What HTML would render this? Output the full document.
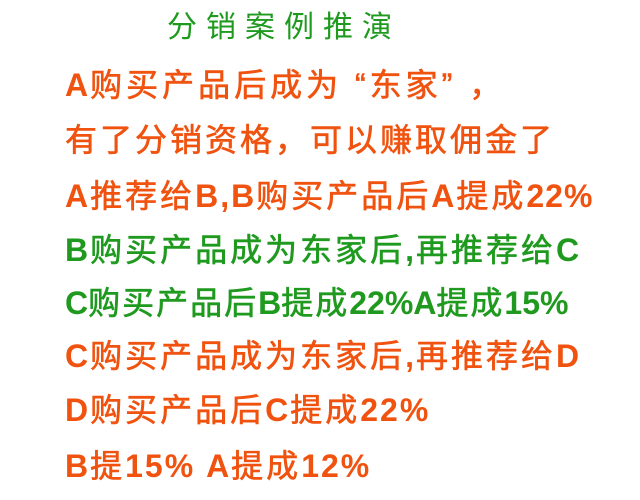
<!DOCTYPE html>
<html><head><meta charset="utf-8"><style>
html,body{margin:0;padding:0;background:#fff;}
body{width:640px;height:500px;position:relative;overflow:hidden;font-family:"Liberation Sans","Noto Sans CJK SC",sans-serif;}
.t{position:absolute;left:65px;font-size:32px;font-weight:normal;letter-spacing:3px;white-space:nowrap;line-height:36px;-webkit-text-stroke:0.6px currentColor;}
.t b{font-weight:bold;-webkit-text-stroke:0;letter-spacing:2px;}
.o{color:#f0520f;}
.g{color:#1f9a1f;}
</style></head><body>
<div class="t g" style="left:167px;top:10px;font-size:30px;letter-spacing:9px;-webkit-text-stroke:0;">分销案例推演</div>
<div class="t o" style="top:67px;letter-spacing:4px;"><b>A</b>购买产品后成为 “东家” ，</div>
<div class="t o" style="top:122px;">有了分销资格，可以赚取佣金了</div>
<div class="t o" style="top:178px;"><b>A</b>推荐给<b>B,B</b>购买产品后<b>A</b>提成<b style="letter-spacing:1px">22%</b></div>
<div class="t g" style="top:232px;"><b>B</b>购买产品成为东家后<b>,</b>再推荐给<b>C</b></div>
<div class="t g" style="top:285px;letter-spacing:2px;"><b style="letter-spacing:0">C</b>购买产品后<b style="letter-spacing:0">B</b>提成<b style="letter-spacing:0">22%A</b>提成<b style="letter-spacing:0">15%</b></div>
<div class="t o" style="top:338px;"><b>C</b>购买产品成为东家后<b>,</b>再推荐给<b>D</b></div>
<div class="t o" style="top:392px;"><b>D</b>购买产品后<b>C</b>提成<b>22%</b></div>
<div class="t o" style="top:448px;"><b>B</b>提<b>15% A</b>提成<b>12%</b></div>
</body></html>
